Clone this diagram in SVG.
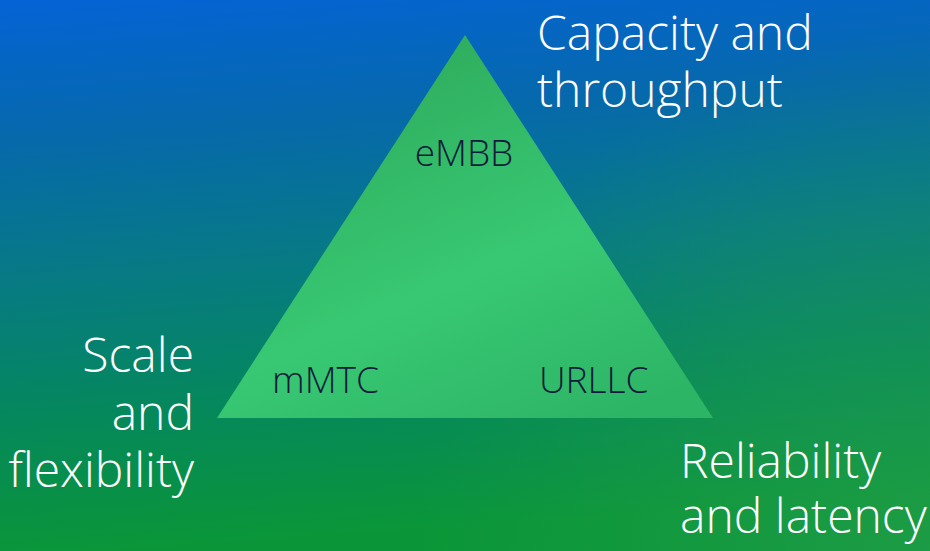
<svg xmlns="http://www.w3.org/2000/svg" width="930" height="551" viewBox="0 0 930 551">
  <defs>
    <linearGradient id="bg" x1="0" y1="0" x2="0.12" y2="1">
      <stop offset="0" stop-color="#0563d6"/>
      <stop offset="0.25" stop-color="#0669ab"/>
      <stop offset="0.5" stop-color="#077a84"/>
      <stop offset="0.75" stop-color="#05885c"/>
      <stop offset="1" stop-color="#0a9638"/>
    </linearGradient>
    <radialGradient id="bgr" cx="930" cy="551" r="520" gradientUnits="userSpaceOnUse">
      <stop offset="0" stop-color="#2aa050" stop-opacity="0.55"/>
      <stop offset="1" stop-color="#2aa050" stop-opacity="0"/>
    </radialGradient>
    <linearGradient id="tri" x1="0.3" y1="0.1" x2="0.8" y2="1">
      <stop offset="0" stop-color="#2fae5e"/>
      <stop offset="0.55" stop-color="#38c873"/>
      <stop offset="1" stop-color="#2db566"/>
    </linearGradient>
  </defs>
  <style>
    .big { font-family: "Open Sans", "Liberation Sans", sans-serif; font-weight: 300; font-size: 48px; fill: #ffffff; }
    .lbl { font-family: "Open Sans", "Liberation Sans", sans-serif; font-weight: 300; font-size: 37px; fill: #0f1b3b; }
  </style>
  <rect x="0" y="0" width="930" height="551" fill="url(#bg)"/>
  <rect x="0" y="0" width="930" height="551" fill="url(#bgr)"/>
  <g id="triangle">
    <polygon points="465,35 217,418 713,418" fill="url(#tri)"/>
    <text class="lbl" x="464" y="166" text-anchor="middle">eMBB</text>
    <text class="lbl" x="272" y="393">mMTC</text>
    <text class="lbl" x="539" y="393">URLLC</text>
  </g>
  <g id="capacity">
    <text class="big" x="537" y="50">Capacity and<tspan x="537" y="107">throughput</tspan></text>
  </g>
  <g id="scale">
    <text class="big" x="194" y="372" text-anchor="end">Scale<tspan x="194" y="430">and</tspan><tspan x="194" y="487">flexibility</tspan></text>
  </g>
  <g id="reliability">
    <text class="big" x="680" y="478">Reliability<tspan x="680" y="533">and latency</tspan></text>
  </g>
  <g id="connectors"></g>
</svg>
